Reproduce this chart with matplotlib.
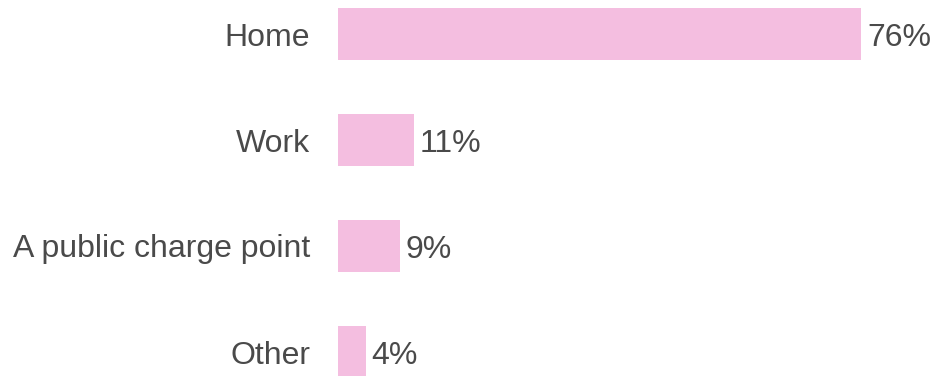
import matplotlib.pyplot as plt

categories = ["Home", "Work", "A public charge point", "Other"]
shares = [76, 11, 9, 4]

BAR = "#F4BEE0"
TEXT = "#4a4a4a"

plt.rcParams['font.family'] = ['Liberation Sans', 'DejaVu Sans']

fig = plt.figure(figsize=(9.36, 3.76), dpi=100)
ax = fig.add_axes([338 / 936, 0, 598 / 936, 1])

pos = list(range(len(categories)))
ax.barh(pos, shares, height=0.49, color=BAR, linewidth=0)

# pixel-calibrated limits: 6.88 px per percent, 106 px between rows
ax.set_xlim(0, 598 / 6.88)
ax.set_ylim((376 - 34) / 106, -34 / 106)

for i, (cat, v) in enumerate(zip(categories, shares)):
    ax.text(-28 / 6.88, i, cat, ha='right', va='center_baseline',
            fontsize=23, color=TEXT, clip_on=False)
    ax.text(v + 6 / 6.88, i, f"{v}%", ha='left', va='center_baseline',
            fontsize=23, color=TEXT)

ax.axis('off')
fig.savefig("out.png", dpi=100, facecolor='white')
